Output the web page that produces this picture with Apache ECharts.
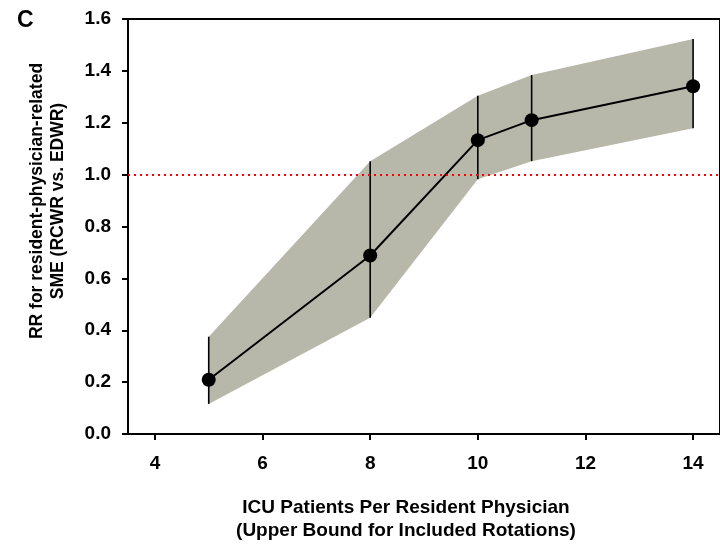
<!DOCTYPE html>
<html>
<head>
<meta charset="utf-8">
<script src="https://cdn.jsdelivr.net/npm/echarts@6/dist/echarts.min.js"></script>
<style>
  html, body { margin: 0; padding: 0; background: #fff; }
  #chart { width: 720px; height: 546px; }
</style>
</head>
<body>
<div id="chart"></div>
<script>
const xValues = [5, 8, 10, 11, 14];
const rr = [0.209, 0.688, 1.133, 1.21, 1.341];
const lower = [0.116, 0.448, 0.982, 1.052, 1.179];
const upper = [0.375, 1.052, 1.304, 1.384, 1.523];
const xTicks = [4, 6, 8, 10, 12, 14];
const refValue = 1.0;

const FONT = "'Liberation Sans', Arial, sans-serif";
const chart = echarts.init(document.getElementById('chart'));

const pointData = xValues.map((x, i) => [x, rr[i]]);
const barData = xValues.map((x, i) => [x, lower[i], upper[i]]);

const option = {
  animation: false,
  backgroundColor: '#fff',
  grid: { left: 128, top: 19, width: 594, height: 415, show: true, borderColor: '#000', borderWidth: 2, backgroundColor: 'transparent' },
  xAxis: {
    type: 'value', min: 3.5, max: 14.5,
    splitLine: { show: false },
    axisLine: { lineStyle: { color: '#000', width: 2 } },
    axisTick: { show: true, length: 6, lineStyle: { color: '#000', width: 2 }, customValues: xTicks },
    axisLabel: { color: '#000', fontFamily: FONT, fontWeight: 'bold', fontSize: 19, margin: 20, customValues: xTicks }
  },
  yAxis: {
    type: 'value', min: 0, max: 1.6, interval: 0.2,
    splitLine: { show: false },
    axisLine: { show: true, lineStyle: { color: '#000', width: 2 } },
    axisTick: { show: true, length: 6, lineStyle: { color: '#000', width: 2 } },
    axisLabel: { color: '#000', fontFamily: FONT, fontWeight: 'bold', fontSize: 19, margin: 17, formatter: v => v.toFixed(1) }
  },
  graphic: [
    { type: 'text', left: 17, top: 9, style: { text: 'C', font: 'bold 23px ' + FONT, fill: '#000' } },
    { type: 'text', x: 406, y: 508, style: { text: 'ICU Patients Per Resident Physician', font: 'bold 19px ' + FONT, fill: '#000', align: 'center', verticalAlign: 'middle' } },
    { type: 'text', x: 406, y: 531, style: { text: '(Upper Bound for Included Rotations)', font: 'bold 19px ' + FONT, fill: '#000', align: 'center', verticalAlign: 'middle' } },
    { type: 'text', x: 37, y: 201, rotation: Math.PI / 2, style: { text: 'RR for resident-physician-related', font: 'bold 17.5px ' + FONT, fill: '#000', align: 'center', verticalAlign: 'middle' } },
    { type: 'text', x: 58, y: 201, rotation: Math.PI / 2, style: { text: 'SME (RCWR vs. EDWR)', font: 'bold 17.5px ' + FONT, fill: '#000', align: 'center', verticalAlign: 'middle' } }
  ],
  series: [
    {
      type: 'custom', name: 'band', z: 1,
      data: barData,
      renderItem: function (params, api) {
        if (params.dataIndex !== 0) return null;
        const pts = [];
        for (let i = 0; i < xValues.length; i++) pts.push(api.coord([xValues[i], upper[i]]));
        for (let i = xValues.length - 1; i >= 0; i--) pts.push(api.coord([xValues[i], lower[i]]));
        return { type: 'polygon', shape: { points: pts }, style: { fill: '#b8b8aa', stroke: null } };
      },
      silent: true
    },
    {
      type: 'line', name: 'ref', z: 2, data: [],
      markLine: {
        silent: true, symbol: 'none', label: { show: false },
        lineStyle: { color: '#ff0000', type: [2, 4], width: 2 },
        data: [{ yAxis: refValue }]
      }
    },
    {
      type: 'custom', name: 'err', z: 3,
      data: barData,
      renderItem: function (params, api) {
        const a = api.coord([api.value(0), api.value(1)]);
        const b = api.coord([api.value(0), api.value(2)]);
        return { type: 'line', shape: { x1: a[0], y1: a[1], x2: b[0], y2: b[1] }, style: { stroke: '#000', lineWidth: 1.6 } };
      },
      silent: true
    },
    {
      type: 'line', name: 'RR', z: 4,
      data: pointData,
      symbol: 'circle', symbolSize: 14,
      itemStyle: { color: '#000' },
      lineStyle: { color: '#000', width: 2 },
      silent: true
    }
  ]
};
chart.setOption(option);
</script>
</body>
</html>
